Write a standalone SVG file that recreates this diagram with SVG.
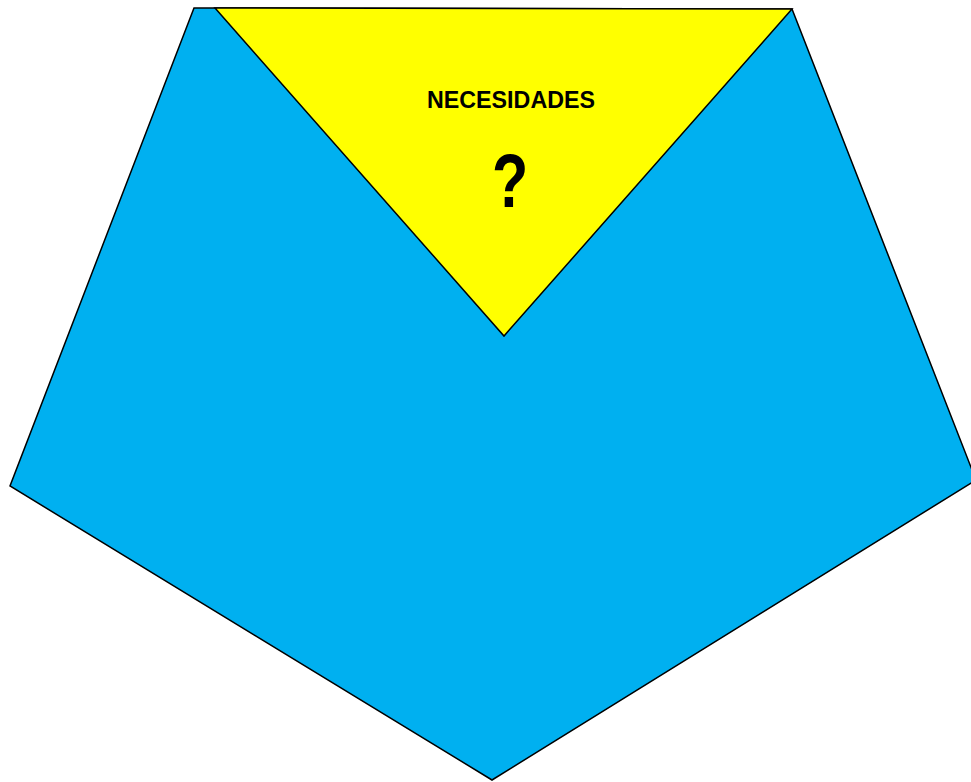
<svg xmlns="http://www.w3.org/2000/svg" width="971" height="782" viewBox="0 0 971 782">
<style>
.shape{stroke:#000;stroke-width:1.5;stroke-linejoin:miter}
.lbl{font-family:"Liberation Sans",Arial,sans-serif;font-weight:bold;fill:#000;text-anchor:middle}
</style>
<rect width="971" height="782" fill="#fff"/>
<g id="pentagon">
<polygon class="shape" fill="#00B0F0" points="194,8 792,9 976,480 492,780 10,486"/>
</g>
<g id="triangle">
<polygon class="shape" fill="#FFFF00" points="215,8 792,9 504,336"/>
<text class="lbl" x="511" y="108" font-size="23" textLength="168" lengthAdjust="spacingAndGlyphs">NECESIDADES</text>
<text class="lbl" x="0" y="207" font-size="76" transform="translate(510,0) scale(0.78,1)">?</text>
</g>
<g id="connectors"></g>
</svg>
